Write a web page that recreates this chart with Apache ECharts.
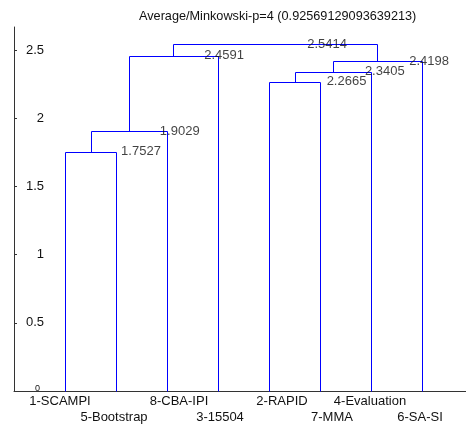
<!DOCTYPE html>
<html>
<head>
<meta charset="utf-8">
<script src="https://cdn.jsdelivr.net/npm/echarts@6/dist/echarts.min.js"></script>
<style>
  html, body { margin: 0; padding: 0; background: #fff; }
  #chart { width: 466px; height: 428px; }
</style>
</head>
<body>
<div id="chart"></div>
<script>
// leaves in dendrogram order
const leafNames = ['1-SCAMPI', '5-Bootstrap', '8-CBA-IPI', '3-15504', '2-RAPID', '7-MMA', '4-Evaluation', '6-SA-SI'];
// merges: [left, right, height]; index < 8 = leaf, 8+ = earlier merge
const merges = [
  [0, 1, 1.7527],
  [8, 2, 1.9029],
  [9, 3, 2.4591],
  [4, 5, 2.2665],
  [11, 6, 2.3405],
  [12, 7, 2.4198],
  [10, 13, 2.5414]
];
// where each height label starts (x in leaf units)
const mergeLabelX = [2.10, 2.86, 3.73, 6.13, 6.88, 7.75, 5.75];
const yTicks = [0, 0.5, 1, 1.5, 2, 2.5];
const titleText = 'Average/Minkowski-p=4 (0.92569129093639213)';

const font = "'Liberation Sans', Arial, sans-serif";
const textColor = '#111';
// small horizontal nudge (px) of each leaf name, as in the original
const leafShift = [-5, -2, 12, 2, 13, 12, -1, -2];

// node positions -> one row per link: xLeft, hLeft, xRight, hRight, height
const nodes = leafNames.map((n, i) => ({ x: i + 1, h: 0 }));
const linkRows = [];
merges.forEach(([l, r, h]) => {
  const a = nodes[l], b = nodes[r];
  linkRows.push([a.x, a.h, b.x, b.h, h]);
  nodes.push({ x: (a.x + b.x) / 2, h: h });
});
const labelPts = merges.map((m, i) => [mergeLabelX[i], m[2]]);
const oddLeaf = leafNames.map((n, i) => i + 1).filter(v => v % 2 === 1);
const evenLeaf = leafNames.map((n, i) => i + 1).filter(v => v % 2 === 0);

const leafRich = {};
leafShift.forEach((s, i) => {
  leafRich['s' + i] = {
    fontSize: 13, color: textColor, fontFamily: font,
    padding: [0, s < 0 ? -2 * s : 0, 0, s > 0 ? 2 * s : 0]
  };
});

const leafLabel = (margin, ticks) => ({
  customValues: ticks,
  margin: margin,
  fontSize: 13,
  color: textColor,
  fontFamily: font,
  rich: leafRich,
  formatter: v => {
    const i = Math.round(v) - 1;
    return leafNames[i] ? '{s' + i + '|' + leafNames[i] + '}' : '';
  }
});

const snap = p => [Math.round(p[0]) + 0.5, Math.round(p[1]) + 0.5];

const chart = echarts.init(document.getElementById('chart'));
chart.setOption({
  animation: false,
  title: {
    text: titleText,
    left: 139,
    top: 10,
    padding: 0,
    textStyle: { fontSize: 12.7, fontWeight: 'normal', color: textColor, fontFamily: font }
  },
  grid: { left: 14, width: 459, top: 27, bottom: 37, outerBoundsMode: 'none' },
  xAxis: [
    {
      type: 'value', min: 0, max: 9, interval: 1,
      axisLine: { lineStyle: { color: '#333' } },
      axisTick: { show: false },
      splitLine: { show: false },
      axisLabel: leafLabel(4, oddLeaf)
    },
    {
      type: 'value', min: 0, max: 9, interval: 1, position: 'bottom',
      axisLine: { show: false },
      axisTick: { show: false },
      splitLine: { show: false },
      axisLabel: leafLabel(20, evenLeaf)
    }
  ],
  yAxis: {
    type: 'value',
    min: 0,
    max: 2.6685,
    interval: 0.5,
    axisLine: { show: true, lineStyle: { color: '#333' } },
    axisTick: { show: true, inside: true, length: 3, customValues: yTicks, lineStyle: { color: '#333' } },
    splitLine: { show: false },
    axisLabel: {
      customValues: yTicks,
      inside: true,
      margin: 30,
      align: 'right',
      fontSize: 13,
      color: textColor,
      fontFamily: font,
      rich: { z: { fontSize: 9, color: textColor, fontFamily: font, padding: [0, 4, 4, 0] } },
      formatter: v => (v === 0 ? '{z|0}' : String(v))
    }
  },
  series: [
    {
      type: 'custom',
      data: linkRows,
      silent: true,
      encode: { x: [0, 2], y: [1, 3, 4] },
      renderItem: (params, api) => {
        const p0 = snap(api.coord([api.value(0), api.value(1)]));
        const p1 = snap(api.coord([api.value(0), api.value(4)]));
        const p2 = snap(api.coord([api.value(2), api.value(4)]));
        const p3 = snap(api.coord([api.value(2), api.value(3)]));
        return {
          type: 'polyline',
          shape: { points: [p0, p1, p2, p3] },
          style: { stroke: '#0000ff', lineWidth: 1, fill: null }
        };
      }
    },
    {
      type: 'scatter',
      symbolSize: 0,
      data: labelPts,
      silent: true,
      z: 5,
      label: {
        show: true,
        position: 'right',
        distance: 0,
        fontSize: 13,
        color: textColor,
        fontFamily: font,
        formatter: p => p.value[1].toFixed(4)
      }
    }
  ]
});
</script>
</body>
</html>
